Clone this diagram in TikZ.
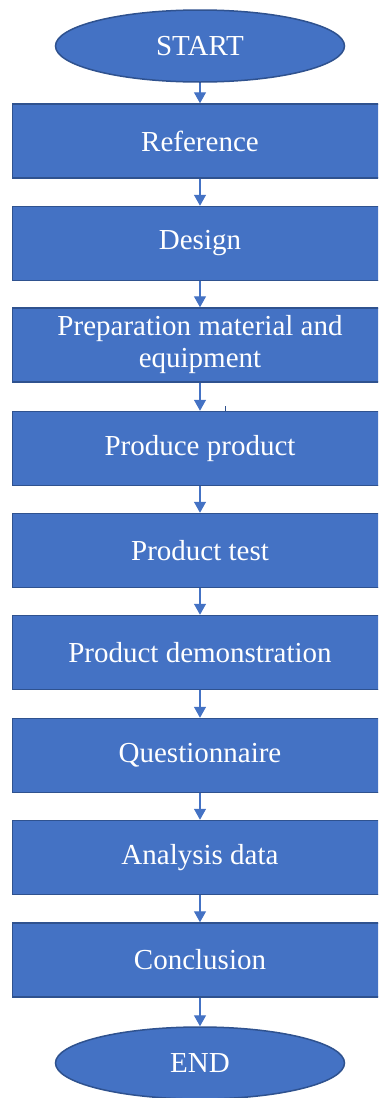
\documentclass[tikz,border=0pt]{standalone}
\usepackage{fontspec}
\setmainfont{Liberation Serif}
\usetikzlibrary{shapes.geometric,arrows.meta}
\definecolor{boxfill}{HTML}{4472C4}
\definecolor{boxline}{HTML}{2F528F}
\definecolor{arrowcol}{HTML}{4472C4}
\begin{document}
\begin{tikzpicture}[x=1pt,y=-1pt,
  stepbox/.style={rectangle, draw=boxline, line width=1.5pt, fill=boxfill,
    minimum width=375pt, minimum height=74pt, inner sep=0pt,
    text=white, align=center,
    font=\fontsize{29}{32}\selectfont},
  termbox/.style={ellipse, draw=boxline, line width=1.5pt, fill=boxfill,
    minimum width=289pt, minimum height=72pt, inner sep=0pt,
    text=white, font=\fontsize{29}{32}\selectfont},
  flow/.style={draw=arrowcol, line width=1.4pt,
    -{Triangle[width=12pt,length=11pt]}}]
\useasboundingbox (0,0) rectangle (378,1098);
\clip (0,0) rectangle (378,1098);
\node[termbox] (start) at (200,46) {START};
\node[stepbox] (ref) at (200,141) {Reference};
\node[stepbox] (design) at (200,243.5) {Design};
\node[stepbox] (prep) at (200,345) {Preparation material and\\equipment};
\node[stepbox] (produce) at (200,448.5) {Produce product};
\node[stepbox] (test) at (200,550.5) {Product test};
\node[stepbox] (demo) at (200,652.5) {Product demonstration};
\node[stepbox] (quest) at (200,755.5) {Questionnaire};
\node[stepbox] (analysis) at (200,857.5) {Analysis data};
\node[stepbox] (concl) at (200,960) {Conclusion};
\node[termbox] (end) at (200,1063) {END};
\foreach \a/\b in {start/ref, ref/design, design/prep, prep/produce,
  produce/test, test/demo, demo/quest, quest/analysis, analysis/concl,
  concl/end}
  \draw[flow] (\a) -- (\b);
% short stray tick above the "Produce product" box
\draw[boxline, line width=0.8pt] (225.7,406) -- (225.7,412);
\end{tikzpicture}
\end{document}
